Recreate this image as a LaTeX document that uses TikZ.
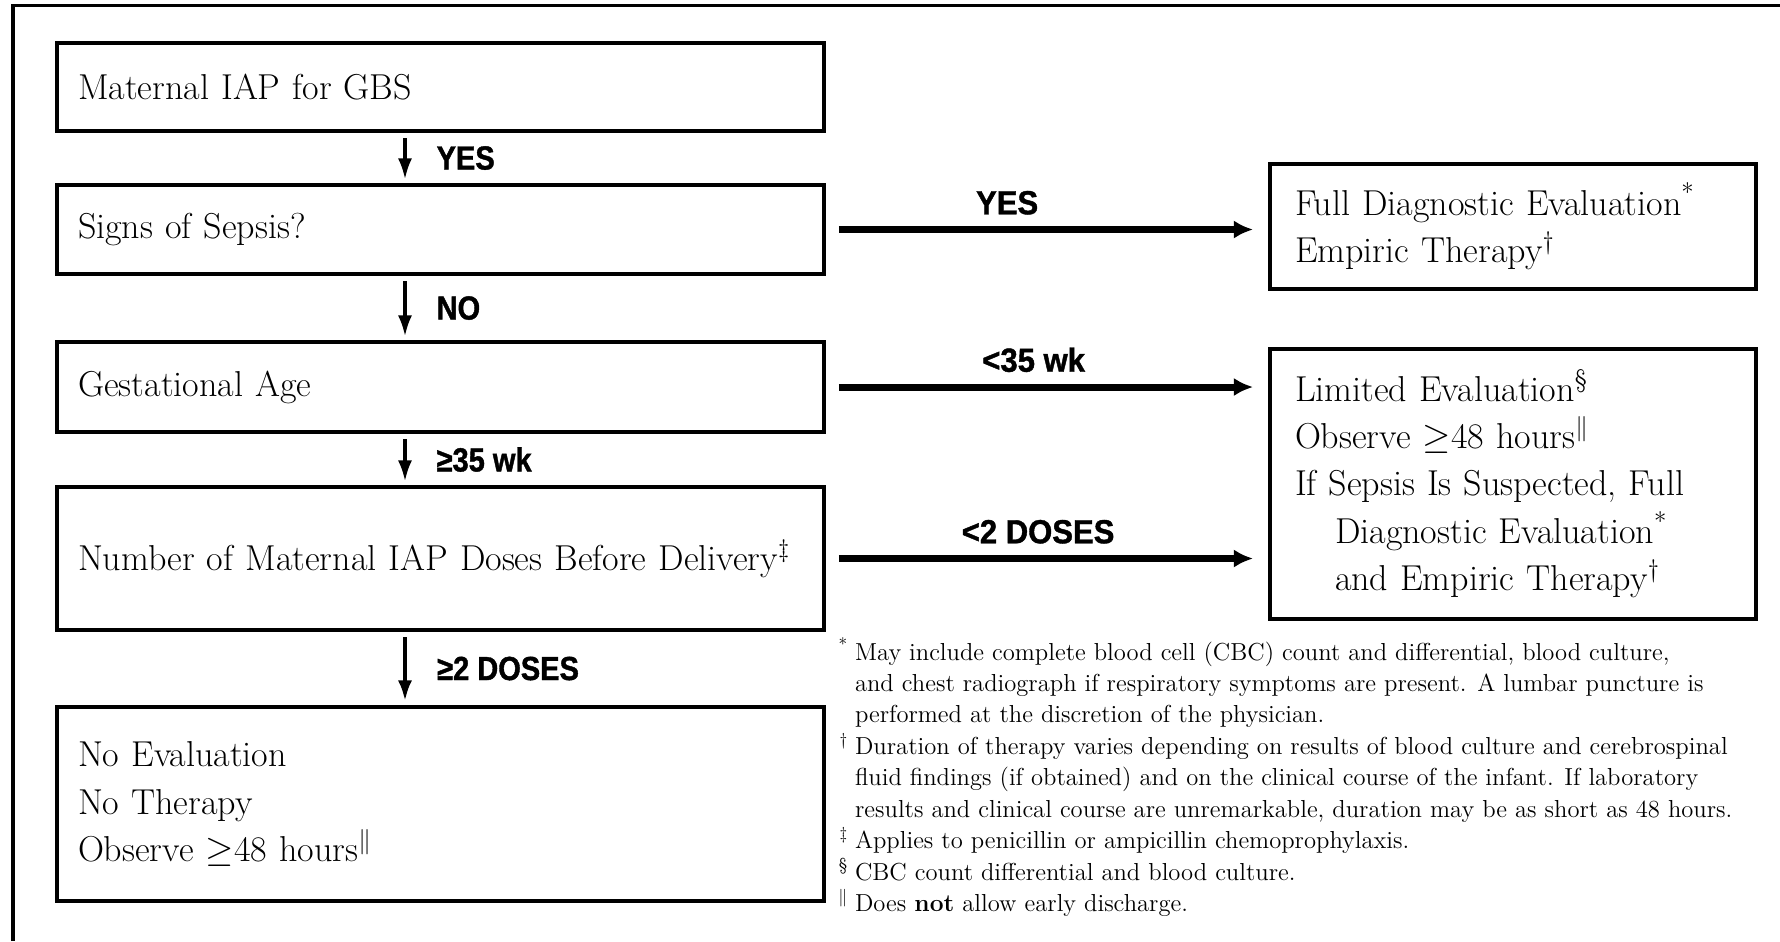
\documentclass[tikz,border=0pt]{standalone}
\usepackage{fontspec}
\usetikzlibrary{arrows.meta,positioning}
\newfontfamily\lblfont[FakeStretch=0.87,BoldFeatures={FakeBold=1.2}]{Liberation Sans}
\newfontfamily\acrossfont[FakeStretch=0.93,BoldFeatures={FakeBold=1.2}]{Liberation Sans}

\begin{document}
\begin{tikzpicture}[x=0.02cm,y=-0.02cm,
  box/.style={draw,line width=2.3pt,anchor=north west,align=left,inner ysep=0pt,
    font=\fontsize{20.5}{27}\selectfont},
  leftbox/.style={box,minimum width=15.34cm,inner xsep=0.42cm,text width=14.5cm},
  rightbox/.style={box,minimum width=9.72cm,inner xsep=0.5cm,text width=8.72cm},
  down/.style={-{Latex[length=12pt,width=8pt]},line width=2pt,shorten <=3pt,shorten >=2pt},
  across/.style={-{Latex[length=11pt,width=10.5pt]},line width=4pt,shorten <=7.4pt,shorten >=8.5pt},
  lbl/.style={font=\lblfont\bfseries\fontsize{19}{20}\selectfont,inner sep=0pt},
  acrosslbl/.style={font=\acrossfont\bfseries\fontsize{19}{20}\selectfont,inner sep=0pt},
]
\useasboundingbox (0,0) rectangle (1780,941);

\draw[line width=1.9pt] (13,941) -- (13,5.5) -- (1780,5.5);

\coordinate (ax) at (405,0);

\node[leftbox,minimum height=1.76cm] (gbs) at (55,41) {Maternal IAP for GBS};
\node[leftbox,minimum height=1.78cm] (sepsis) at (55,183) {Signs of Sepsis?};
\node[leftbox,minimum height=1.8cm] (age) at (55,340) {Gestational Age};
\node[leftbox,minimum height=2.86cm] (doses) at (55,485)
  {\mbox{Number of Maternal IAP Doses Before Delivery\textsuperscript{\textdaggerdbl}}};
\node[leftbox,minimum height=3.88cm] (none) at (55,705)
  {No Evaluation\\No Therapy\\Observe $\geq$48 hours\textsuperscript{$\|$}};

\node[rightbox,minimum height=2.5cm] (full) at (1268,162)
  {Full Diagnostic Evaluation\textsuperscript{*}\\Empiric Therapy\textsuperscript{\textdagger}};
\node[rightbox,minimum height=5.4cm] (limited) at (1268,347)
  {Limited Evaluation\textsuperscript{\textsection}\\
   Observe $\geq$48 hours\textsuperscript{$\|$}\\
   If Sepsis Is Suspected, Full\\
   \hspace*{0.8cm}Diagnostic Evaluation\textsuperscript{*}\\
   \hspace*{0.8cm}and Empiric Therapy\textsuperscript{\textdagger}};

\draw[down] (gbs.south -| ax) -- node[lbl,right=17pt] {YES} (sepsis.north -| ax);
\draw[down] (sepsis.south -| ax) -- node[lbl,right=17pt] {NO} (age.north -| ax);
\draw[down] (age.south -| ax) -- node[lbl,right=17pt] {≥35 wk} (doses.north -| ax);
\draw[down,line width=2.6pt] (doses.south -| ax) -- node[lbl,right=17pt] {≥2 DOSES} (none.north -| ax);

\draw[across] (sepsis.east) -- node[acrosslbl,above=6.5pt,pos=0.41] {YES} (sepsis.east -| full.west);
\draw[across] (age.east) -- node[acrosslbl,above=6.5pt,pos=0.47] {<35 wk} (age.east -| limited.west);
\draw[across] (doses.east) -- node[acrosslbl,above=6.5pt,pos=0.48] {<2 DOSES} (doses.east -| limited.west);

\node[anchor=base west,inner sep=0pt,font=\fontsize{14}{17.9}\selectfont] (notes) at (838,660)
  {\begin{tabular}[t]{@{}r@{\hspace{4pt}}l@{}}
   \textsuperscript{*} & May include complete blood cell (CBC) count and differential, blood culture,\\
   & and chest radiograph if respiratory symptoms are present. A lumbar puncture is\\
   & performed at the discretion of the physician.\\
   \textsuperscript{\textdagger} & Duration of therapy varies depending on results of blood culture and cerebrospinal\\
   & fluid findings (if obtained) and on the clinical course of the infant. If laboratory\\
   & results and clinical course are unremarkable, duration may be as short as 48 hours.\\
   \textsuperscript{\textdaggerdbl} & Applies to penicillin or ampicillin chemoprophylaxis.\\
   \textsuperscript{\textsection} & CBC count differential and blood culture.\\
   \textsuperscript{$\|$} & Does \textbf{not} allow early discharge.
   \end{tabular}};
\end{tikzpicture}
\end{document}
